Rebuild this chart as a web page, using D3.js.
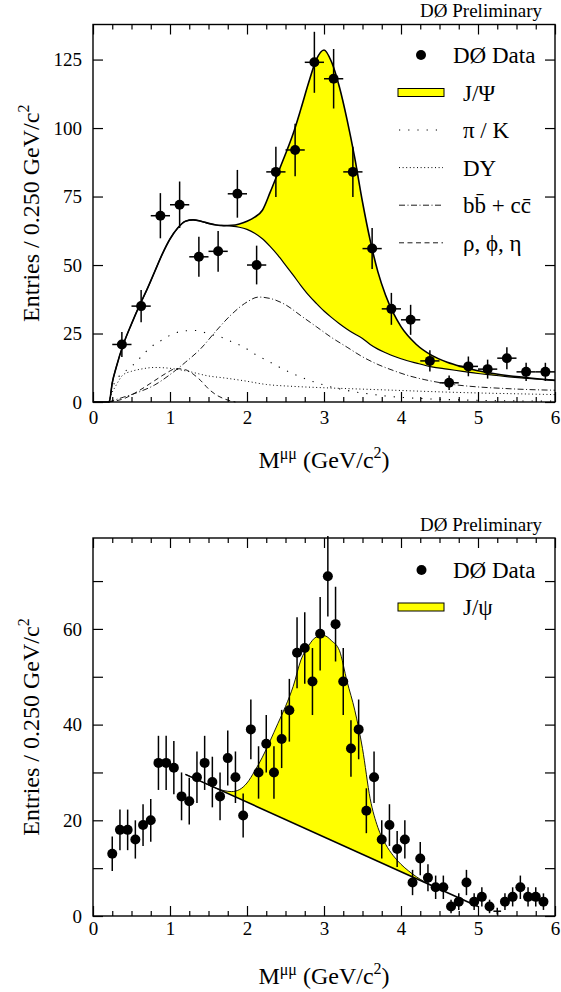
<!DOCTYPE html>
<html>
<head>
<meta charset="utf-8">
<script src="https://cdn.jsdelivr.net/npm/d3@7"></script>
<style>
  body { margin: 0; background: #fff; }
  svg { display: block; }
  text { font-family: "Liberation Serif", "Times New Roman", serif; fill: #000; }
</style>
</head>
<body>
<svg id="chart" width="561" height="992"></svg>
<script>
// ---------- values ----------
// top panel: 0.25 GeV bins
const topBinX = [0.375, 0.625, 0.875, 1.125, 1.375, 1.625, 1.875, 2.125, 2.375, 2.625, 2.875, 3.125,
                 3.375, 3.625, 3.875, 4.125, 4.375, 4.625, 4.875, 5.125, 5.375, 5.625, 5.875];
const topCounts = [21, 35, 68, 72, 53, 55, 76, 50, 84, 92, 124, 118, 84, 56, 34, 30, 15, 7, 13, 12, 16, 11, 11];

// fit curves, sampled on one grid (total = bkg + J/psi)
const topCurveX = [0, 0.21, 0.25, 0.3, 0.4, 0.5, 0.6, 0.7, 0.8, 0.9, 1.0, 1.1, 1.2, 1.3, 1.4, 1.5, 1.6, 1.7,
                   1.8, 1.9, 2.0, 2.1, 2.2, 2.3, 2.4, 2.5, 2.6, 2.7, 2.8, 2.9, 3.0, 3.1, 3.2, 3.3, 3.4, 3.5,
                   3.6, 3.7, 3.8, 3.9, 4.0, 4.2, 4.4, 4.6, 4.8, 5.0, 5.2, 5.4, 5.6, 5.8, 6.0];
const topTotal = [0, 0, 7, 12.5, 21.5, 28.5, 35, 41, 47.5, 54, 59.5, 63.5, 66, 66.5, 66, 65.2, 64.6, 64.4,
                  64.5, 65, 66, 67.5, 70, 76.5, 83.5, 90.5, 98, 107, 116.5, 125, 128.5, 124, 115, 103, 89, 73,
                  59, 47.5, 39, 32.5, 27.5, 21, 17, 14.5, 12.8, 11.4, 10.4, 9.6, 9, 8.4, 7.9];
const topBkg = [0, 0, 7, 12.5, 21.5, 28.5, 35, 41, 47.5, 54, 59.5, 63.5, 66, 66.5, 66, 65.2, 64.6, 64.4,
                64.2, 63.8, 63, 61.6, 59.6, 56.8, 53.6, 50, 46.3, 42.5, 39, 36, 33.2, 30.8, 28.6, 26.6, 24.8, 23.2,
                21, 19.3, 18, 16.8, 15.8, 14.2, 12.8, 12, 11.2, 10.4, 9.8, 9.2, 8.7, 8.3, 7.9];

// background components
const piK = [[0.2, 0], [0.25, 5], [0.3, 8], [0.4, 10.8], [0.5, 13], [0.6, 15.8], [0.75, 20], [0.9, 22.7],
             [1.05, 25], [1.2, 26], [1.35, 26.1], [1.5, 24.9], [1.65, 23.8], [1.8, 22], [1.95, 20.2],
             [2.1, 17.5], [2.25, 15.3], [2.4, 13], [2.6, 10.3], [2.8, 8], [3.0, 6.2], [3.2, 4.8], [3.4, 3.7],
             [3.6, 2.9], [3.8, 2.2], [4.0, 1.7], [4.4, 1.1], [5.0, 0.6], [6.0, 0.3]];
const drellYan = [[0.2, 0], [0.24, 3], [0.29, 5.6], [0.39, 9.9], [0.5, 11.2], [0.62, 12], [0.8, 12.6],
                  [1.0, 12.3], [1.25, 11.1], [1.5, 9.5], [1.7, 8.8], [1.95, 7.8], [2.25, 6.4], [2.6, 5.7],
                  [3.0, 5.2], [3.5, 4.7], [4.0, 4.2], [4.5, 3.7], [5.0, 3.3], [5.5, 3], [6.0, 2.7]];
const heavyFlavour = [[0.2, 0], [0.4, 1.8], [0.6, 3.7], [0.8, 6.2], [1.0, 10], [1.2, 14.5], [1.4, 19.5],
                      [1.6, 26], [1.8, 32], [2.0, 36.5], [2.15, 38.3], [2.3, 37.8], [2.5, 35.5], [2.7, 31.5],
                      [2.9, 27.5], [3.1, 23.5], [3.3, 20], [3.5, 16.5], [3.7, 13.7], [3.9, 11.5], [4.1, 9.6],
                      [4.3, 8.2], [4.5, 7.1], [4.7, 6.3], [5.0, 5.5], [5.3, 5], [5.6, 4.6], [6.0, 4.3]];
const lightMesons = [[0.2, 0], [0.4, 1.2], [0.6, 4.2], [0.8, 7.8], [0.95, 10.5], [1.08, 12.2], [1.2, 11.8],
                     [1.3, 10.2], [1.4, 7.8], [1.5, 4.8], [1.6, 2.6], [1.7, 1.2], [1.8, 0.3], [1.85, 0]];

// bottom panel: 0.1 GeV steps
const botBinX = [0.25, 0.35, 0.45, 0.55, 0.65, 0.75, 0.85, 0.95, 1.05, 1.15, 1.25, 1.35, 1.45, 1.55, 1.65,
                 1.75, 1.85, 1.95, 2.05, 2.15, 2.25, 2.35, 2.45, 2.55, 2.65, 2.75, 2.85, 2.95, 3.05, 3.15,
                 3.25, 3.35, 3.45, 3.55, 3.65, 3.75, 3.85, 3.95, 4.05, 4.15, 4.25, 4.35, 4.45, 4.55, 4.65,
                 4.75, 4.85, 4.95, 5.05, 5.15, 5.35, 5.45, 5.55, 5.65, 5.75, 5.85];
const botCounts = [13, 18, 18, 16, 19, 20, 32, 32, 31, 25, 24, 29, 32, 28, 25, 33, 29, 21, 39, 30, 36, 30,
                   37, 43, 55, 56, 49, 59, 71, 61, 49, 35, 39, 22, 29, 16, 19, 14, 16, 7, 12, 8, 6, 6, 2,
                   3, 7, 3, 4, 2, 3, 4, 6, 4, 4, 3];
const botCrossOnly = [[5.25, 1]];
const botTotalX = [1.2, 1.3, 1.4, 1.5, 1.6, 1.7, 1.8, 1.9, 2.0, 2.1, 2.2, 2.3, 2.4, 2.5, 2.6, 2.7, 2.8, 2.9,
                   3.0, 3.1, 3.2, 3.3, 3.4, 3.5, 3.6, 3.7, 3.8, 3.9, 4.0, 4.1, 4.2, 4.3, 4.4];
const botTotal = [29.6, 28.9, 28.15, 27.4, 26.7, 26.2, 26.0, 26.4, 27.8, 30.3, 33.2, 36.6, 40.2, 43.8, 48,
                  53.5, 56.5, 58.3, 58.6, 57.5, 55.5, 49, 43, 35, 24.5, 18.5, 15, 12.6, 10.8, 9.4, 8.2, 7.2, 6.4];
const botBkgLine = [[1.2, 29.6], [5.0, 2.0]];

const xTicks = [0, 1, 2, 3, 4, 5, 6];
const xMinor = d3.range(0.25, 6, 0.25).filter(v => v % 1 !== 0);
const topYTicks = [0, 25, 50, 75, 100, 125];
const botYTicks = [0, 20, 40, 60];
const botYMinor = [10, 30, 50, 70];

// ---------- drawing ----------
const FONT = '"Liberation Serif", "Times New Roman", serif';
const svg = d3.select("#chart");
const margin = {left: 93, right: 555};

/** frame with inward ticks on all four sides */
const makePanel = ({top, bottom, yMax, yTicks, yMinor, xLabelPad}) => {
    const x = d3.scaleLinear().domain([0, 6]).range([margin.left, margin.right]);
    const y = d3.scaleLinear().domain([0, yMax]).range([bottom, top]);
    const g = svg.append("g");
    const clean = sel => {
        sel.select(".domain").remove();
        sel.attr("font-family", FONT).attr("font-size", null);
        sel.selectAll("line").attr("stroke", "#000").attr("stroke-width", 1.2);
    };
    g.append("g").attr("transform", `translate(0,${bottom})`)
        .call(d3.axisBottom(x).tickValues(xTicks).tickSize(-10).tickPadding(xLabelPad).tickFormat(d3.format("d")))
        .call(clean)
        .selectAll("text").style("font-size", "19px");
    g.append("g").attr("transform", `translate(0,${bottom})`)
        .call(d3.axisBottom(x).tickValues(xMinor).tickSize(-5).tickFormat("")).call(clean);
    g.append("g").attr("transform", `translate(0,${top})`)
        .call(d3.axisTop(x).tickValues(xTicks).tickSize(-10).tickFormat("")).call(clean);
    g.append("g").attr("transform", `translate(0,${top})`)
        .call(d3.axisTop(x).tickValues(xMinor).tickSize(-5).tickFormat("")).call(clean);
    g.append("g").attr("transform", `translate(${margin.left},0)`)
        .call(d3.axisLeft(y).tickValues(yTicks).tickSize(-10).tickPadding(11))
        .call(clean)
        .selectAll("text").style("font-size", "19px");
    g.append("g").attr("transform", `translate(${margin.right},0)`)
        .call(d3.axisRight(y).tickValues(yTicks).tickSize(-10).tickFormat("")).call(clean);
    [["left", margin.left], ["right", margin.right]].forEach(([side, pos]) => {
        const axis = side === "left" ? d3.axisLeft(y) : d3.axisRight(y);
        g.append("g").attr("transform", `translate(${pos},0)`)
            .call(axis.tickValues(yMinor).tickSize(-10).tickFormat("")).call(clean);
    });
    g.append("rect")
        .attr("x", margin.left).attr("y", top)
        .attr("width", margin.right - margin.left).attr("height", bottom - top)
        .attr("fill", "none").attr("stroke", "#000").attr("stroke-width", 1.4);
    return {x, y, g, top, bottom};
};

/** axis titles with superscripts */
const axisTitles = (p, xTitleY) => {
    const cy = (p.top + p.bottom) / 2;
    const yt = svg.append("text")
        .attr("transform", `translate(39,${cy}) rotate(-90)`)
        .attr("text-anchor", "middle").style("font-size", "24px");
    yt.append("tspan").text("Entries / 0.250 GeV/c");
    yt.append("tspan").attr("dy", -10).style("font-size", "16px").text("2");
    const xt = svg.append("text")
        .attr("x", (margin.left + margin.right) / 2).attr("y", xTitleY)
        .attr("text-anchor", "middle").style("font-size", "24px");
    xt.append("tspan").text("M");
    xt.append("tspan").attr("dy", -9).style("font-size", "16px").text("\u03bc\u03bc");
    xt.append("tspan").attr("dy", 9).text(" (GeV/c");
    xt.append("tspan").attr("dy", -10).style("font-size", "16px").text("2");
    xt.append("tspan").attr("dy", 10).text(")");
};

const prelim = yBase => svg.append("text")
    .attr("x", 542).attr("y", yBase).attr("text-anchor", "end")
    .style("font-size", "19px").text("D\u00d8 Preliminary");

/** data points with error bars */
const drawPoints = (p, xs, counts, halfWidth) => {
    const pts = xs.map((v, i) => ({x: v, n: counts[i]}));
    const eg = p.g.append("g").attr("stroke", "#000").attr("stroke-width", 1.5);
    eg.selectAll("line.ev").data(pts).join("line").attr("class", "ev")
        .attr("x1", d => p.x(d.x)).attr("x2", d => p.x(d.x))
        .attr("y1", d => p.y(d.n - Math.sqrt(d.n))).attr("y2", d => p.y(d.n + Math.sqrt(d.n)));
    eg.selectAll("line.eh").data(pts).join("line").attr("class", "eh")
        .attr("x1", d => p.x(d.x - halfWidth)).attr("x2", d => p.x(d.x + halfWidth))
        .attr("y1", d => p.y(d.n)).attr("y2", d => p.y(d.n));
    p.g.append("g").selectAll("circle").data(pts).join("circle")
        .attr("cx", d => p.x(d.x)).attr("cy", d => p.y(d.n)).attr("r", 5).attr("fill", "#000");
};

// ===== TOP PANEL =====
const topP = makePanel({top: 24.5, bottom: 402, yMax: 137.8, yTicks: topYTicks, yMinor: [], xLabelPad: 9});
prelim(17);
axisTitles(topP, 468);

const topGrid = topCurveX.map((v, i) => ({x: v, tot: topTotal[i], bkg: topBkg[i]}));
topP.g.append("path").datum(topGrid)
    .attr("d", d3.area().curve(d3.curveMonotoneX)
        .x(d => topP.x(d.x)).y0(d => topP.y(d.bkg)).y1(d => topP.y(d.tot)))
    .attr("fill", "#ffff00");

const compLine = d3.line().curve(d3.curveMonotoneX).x(d => topP.x(d[0])).y(d => topP.y(d[1]));
const components = [
    {name: "\u03c0 / K", data: piK, dash: "1.2,8", width: 1.1},
    {name: "DY", data: drellYan, dash: "1,2.6", width: 1},
    {name: "bb\u0304 + cc\u0304", data: heavyFlavour, dash: "6,2.5,1,2.5", width: 0.9},
    {name: "\u03c1, \u03d5, \u03b7", data: lightMesons, dash: "5,3.5", width: 0.9}
];
components.forEach(c => {
    topP.g.append("path").datum(c.data).attr("d", compLine)
        .attr("fill", "none").attr("stroke", "#000")
        .attr("stroke-width", c.width).attr("stroke-dasharray", c.dash);
});
[["bkg", 1.2], ["tot", 1.6]].forEach(([key, w]) => {
    topP.g.append("path").datum(topGrid)
        .attr("d", d3.line().curve(d3.curveMonotoneX).x(d => topP.x(d.x)).y(d => topP.y(d[key])))
        .attr("fill", "none").attr("stroke", "#000").attr("stroke-width", w);
});
drawPoints(topP, topBinX, topCounts, 0.125);

// top legend
const legX0 = 399, legX1 = 443, legText = 463;
const topLeg = svg.append("g");
topLeg.append("circle").attr("cx", 421).attr("cy", 55).attr("r", 5);
topLeg.append("text").attr("x", 453).attr("y", 63).style("font-size", "23px").text("D\u00d8 Data");
topLeg.append("rect").attr("x", 398).attr("y", 88.5).attr("width", 46).attr("height", 8)
    .attr("fill", "#ffff00").attr("stroke", "#000").attr("stroke-width", 1);
topLeg.append("text").attr("x", legText).attr("y", 100.5).style("font-size", "23px").text("J/\u03a8");
components.forEach((c, i) => {
    const ly = 130 + i * 37.6;
    topLeg.append("line").attr("x1", legX0).attr("x2", legX1).attr("y1", ly).attr("y2", ly)
        .attr("stroke", "#000").attr("stroke-width", c.width).attr("stroke-dasharray", c.dash);
    topLeg.append("text").attr("x", legText).attr("y", ly + 8).style("font-size", "23px").text(c.name);
});

// ===== BOTTOM PANEL =====
const botP = makePanel({top: 538, bottom: 916, yMax: 79, yTicks: botYTicks, yMinor: botYMinor, xLabelPad: 6});
prelim(531);
axisTitles(botP, 984);

const botGrid = botTotalX.map((v, i) => [v, botTotal[i]]);
const botLine = d3.line().curve(d3.curveMonotoneX).x(d => botP.x(d[0])).y(d => botP.y(d[1]));
// the background is straight, so closing the total curve back to its start traces it
botP.g.append("path").datum(botGrid).attr("d", d => botLine(d) + "Z")
    .attr("fill", "#ffff00").attr("stroke", "none");
botP.g.append("path").datum(botGrid).attr("d", botLine)
    .attr("fill", "none").attr("stroke", "#000").attr("stroke-width", 0.9);
botP.g.append("path").datum(botBkgLine).attr("d", d3.line().x(d => botP.x(d[0])).y(d => botP.y(d[1])))
    .attr("fill", "none").attr("stroke", "#000").attr("stroke-width", 1.6);
drawPoints(botP, botBinX, botCounts, 0.05);
botCrossOnly.forEach(([cx, n]) => {
    botP.g.append("line").attr("x1", botP.x(cx)).attr("x2", botP.x(cx))
        .attr("y1", botP.y(n - 0.7)).attr("y2", botP.y(n + 0.7)).attr("stroke", "#000").attr("stroke-width", 1.5);
    botP.g.append("line").attr("x1", botP.x(cx - 0.05)).attr("x2", botP.x(cx + 0.05))
        .attr("y1", botP.y(n)).attr("y2", botP.y(n)).attr("stroke", "#000").attr("stroke-width", 1.5);
});

const botLeg = svg.append("g");
botLeg.append("circle").attr("cx", 421.5).attr("cy", 570).attr("r", 5);
botLeg.append("text").attr("x", 453).attr("y", 578).style("font-size", "23px").text("D\u00d8 Data");
botLeg.append("rect").attr("x", 398).attr("y", 603).attr("width", 46).attr("height", 8)
    .attr("fill", "#ffff00").attr("stroke", "#000").attr("stroke-width", 1);
botLeg.append("text").attr("x", legText).attr("y", 615).style("font-size", "23px").text("J/\u03c8");

// make sure every label uses the serif face
svg.selectAll("text").style("font-family", FONT).attr("fill", "#000");
</script>
</body>
</html>
